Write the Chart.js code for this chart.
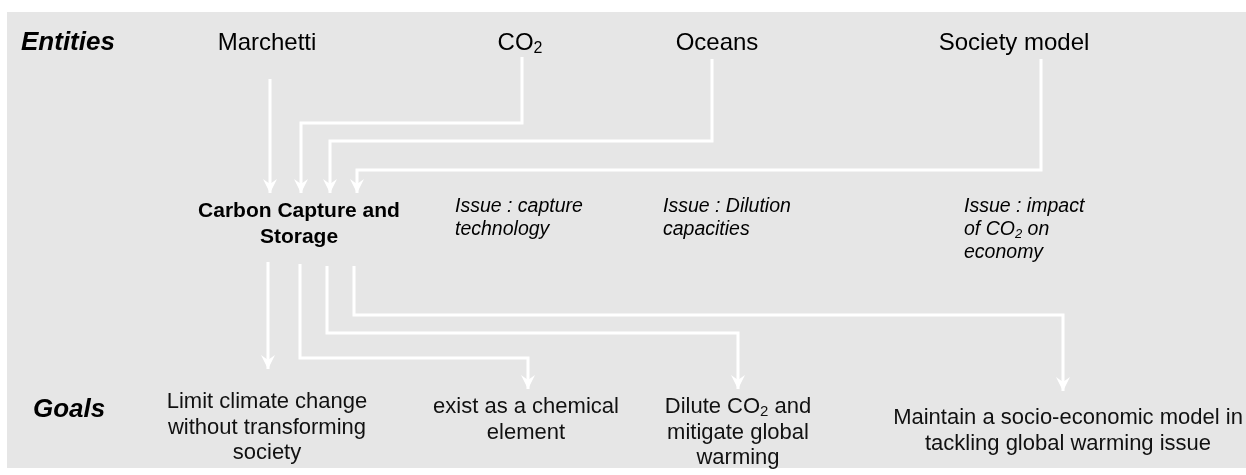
<!DOCTYPE html>
<html>
<head>
<meta charset="utf-8">
<script src="https://cdn.jsdelivr.net/npm/chart.js@4"></script>
<style>
  body { margin: 0; background: #ffffff; }
  #wrap { width: 1246px; height: 475px; }
</style>
</head>
<body>
<div id="wrap"><canvas id="diagram" width="1246" height="475"></canvas></div>
<script>
// Entities (top row), text with {..} = subscript
const entityNames = ["Marchetti", "CO{2}", "Oceans", "Society model"];
const entityX = [267, 520, 717, 1014];

// Issues next to the CCS box
const issueLines = [
  ["Issue : capture", "technology"],
  ["Issue : Dilution", "capacities"],
  ["Issue : impact", "of CO{2} on", "economy"]
];
const issueX = [455, 663, 964];

// Goals (bottom row)
const goalLines = [
  ["Limit climate change", "without transforming", "society"],
  ["exist as a chemical", "element"],
  ["Dilute CO{2} and", "mitigate global", "warming"],
  ["Maintain a socio-economic model in", "tackling global warming issue"]
];
const goalX = [267, 526, 738, 1068];
const goalTopY = [402, 407, 407, 418];

const centerLines = ["Carbon Capture and", "Storage"];

// connectors: entity -> CCS
const inMarchetti = [[270, 79], [270, 193]];
const inCO2 = [[522, 57], [522, 123], [301, 123], [301, 193]];
const inOceans = [[712, 59], [712, 141], [330, 141], [330, 193]];
const inSociety = [[1041, 59], [1041, 170], [357, 170], [357, 193]];
// connectors: CCS -> goals
const outLimit = [[268, 262], [268, 369]];
const outExist = [[300, 264], [300, 358], [528, 358], [528, 389]];
const outDilute = [[327, 266], [327, 333], [738, 333], [738, 389]];
const outMaintain = [[354, 266], [354, 315], [1063, 315], [1063, 391]];

const connectors = [inMarchetti, inCO2, inOceans, inSociety, outLimit, outExist, outDilute, outMaintain];

const FONT = '"Liberation Sans", Arial, sans-serif';

// draws one line of text, {x} parts drawn as subscript
function richText(ctx, str, x, y, size, style, align) {
  const parts = str.split(/(\{[^}]*\})/).filter(p => p.length);
  const segs = parts.map(p => {
    const sub = p.startsWith("{");
    return { t: sub ? p.slice(1, -1) : p, sub: sub };
  });
  const fontFor = s => style + " " + (s.sub ? Math.round(size * 0.68) : size) + "px " + FONT;
  let total = 0;
  segs.forEach(s => { ctx.font = fontFor(s); s.w = ctx.measureText(s.t).width; total += s.w; });
  let cx = align === "center" ? x - total / 2 : x;
  ctx.textAlign = "left";
  ctx.textBaseline = "middle";
  segs.forEach(s => {
    ctx.font = fontFor(s);
    ctx.fillText(s.t, cx, s.sub ? y + size * 0.22 : y);
    cx += s.w;
  });
}

const diagramPlugin = {
  id: "diagram",
  beforeDraw(chart) {
    const { ctx, scales: { x, y } } = chart;
    ctx.save();
    ctx.fillStyle = "#e6e6e6";
    const x0 = x.getPixelForValue(7), x1 = x.getPixelForValue(1246);
    const y0 = y.getPixelForValue(12), y1 = y.getPixelForValue(468);
    ctx.fillRect(x0, y0, x1 - x0, y1 - y0);
    ctx.restore();
  },
  afterDatasetsDraw(chart) {
    const { ctx, scales: { x, y } } = chart;
    ctx.save();
    // arrow heads at the end of every connector
    ctx.fillStyle = "#ffffff";
    chart.data.datasets.forEach((ds, i) => {
      const pts = chart.getDatasetMeta(i).data;
      const a = pts[pts.length - 2], b = pts[pts.length - 1];
      const ang = Math.atan2(b.y - a.y, b.x - a.x);
      ctx.save();
      ctx.translate(b.x, b.y);
      ctx.rotate(ang - Math.PI / 2);
      ctx.beginPath();
      ctx.moveTo(0, 0);
      ctx.lineTo(-7, -14);
      ctx.lineTo(0, -9);
      ctx.lineTo(7, -14);
      ctx.closePath();
      ctx.fill();
      ctx.restore();
    });

    ctx.fillStyle = "#000000";
    richText(ctx, "Entities", x.getPixelForValue(21), y.getPixelForValue(43), 26, "italic bold", "left");
    richText(ctx, "Goals", x.getPixelForValue(33), y.getPixelForValue(410), 26, "italic bold", "left");

    entityNames.forEach((n, i) => {
      richText(ctx, n, x.getPixelForValue(entityX[i]), y.getPixelForValue(43), 24, "normal", "center");
    });

    centerLines.forEach((l, j) => {
      richText(ctx, l, x.getPixelForValue(299), y.getPixelForValue(211 + j * 26), 21, "bold", "center");
    });

    issueLines.forEach((lines, i) => {
      lines.forEach((l, j) => {
        richText(ctx, l, x.getPixelForValue(issueX[i]), y.getPixelForValue(207 + j * 23), 19.5, "italic", "left");
      });
    });

    ctx.fillStyle = "#111111";
    goalLines.forEach((lines, i) => {
      lines.forEach((l, j) => {
        richText(ctx, l, x.getPixelForValue(goalX[i]), y.getPixelForValue(goalTopY[i] + j * 25.5), 22, "normal", "center");
      });
    });
    ctx.restore();
  }
};

new Chart(document.getElementById("diagram"), {
  type: "scatter",
  data: {
    datasets: connectors.map(path => ({
      data: path.map(p => ({ x: p[0], y: p[1] })),
      showLine: true,
      borderColor: "#ffffff",
      borderWidth: 3,
      borderCapStyle: "butt",
      borderJoinStyle: "miter",
      pointRadius: 0,
      tension: 0
    }))
  },
  options: {
    responsive: false,
    animation: false,
    devicePixelRatio: 1,
    layout: { padding: 0 },
    plugins: { legend: { display: false }, tooltip: { enabled: false } },
    scales: {
      x: { type: "linear", min: 0, max: 1246, display: false },
      y: { type: "linear", min: 0, max: 475, reverse: true, display: false }
    }
  },
  plugins: [diagramPlugin]
});
</script>
</body>
</html>
